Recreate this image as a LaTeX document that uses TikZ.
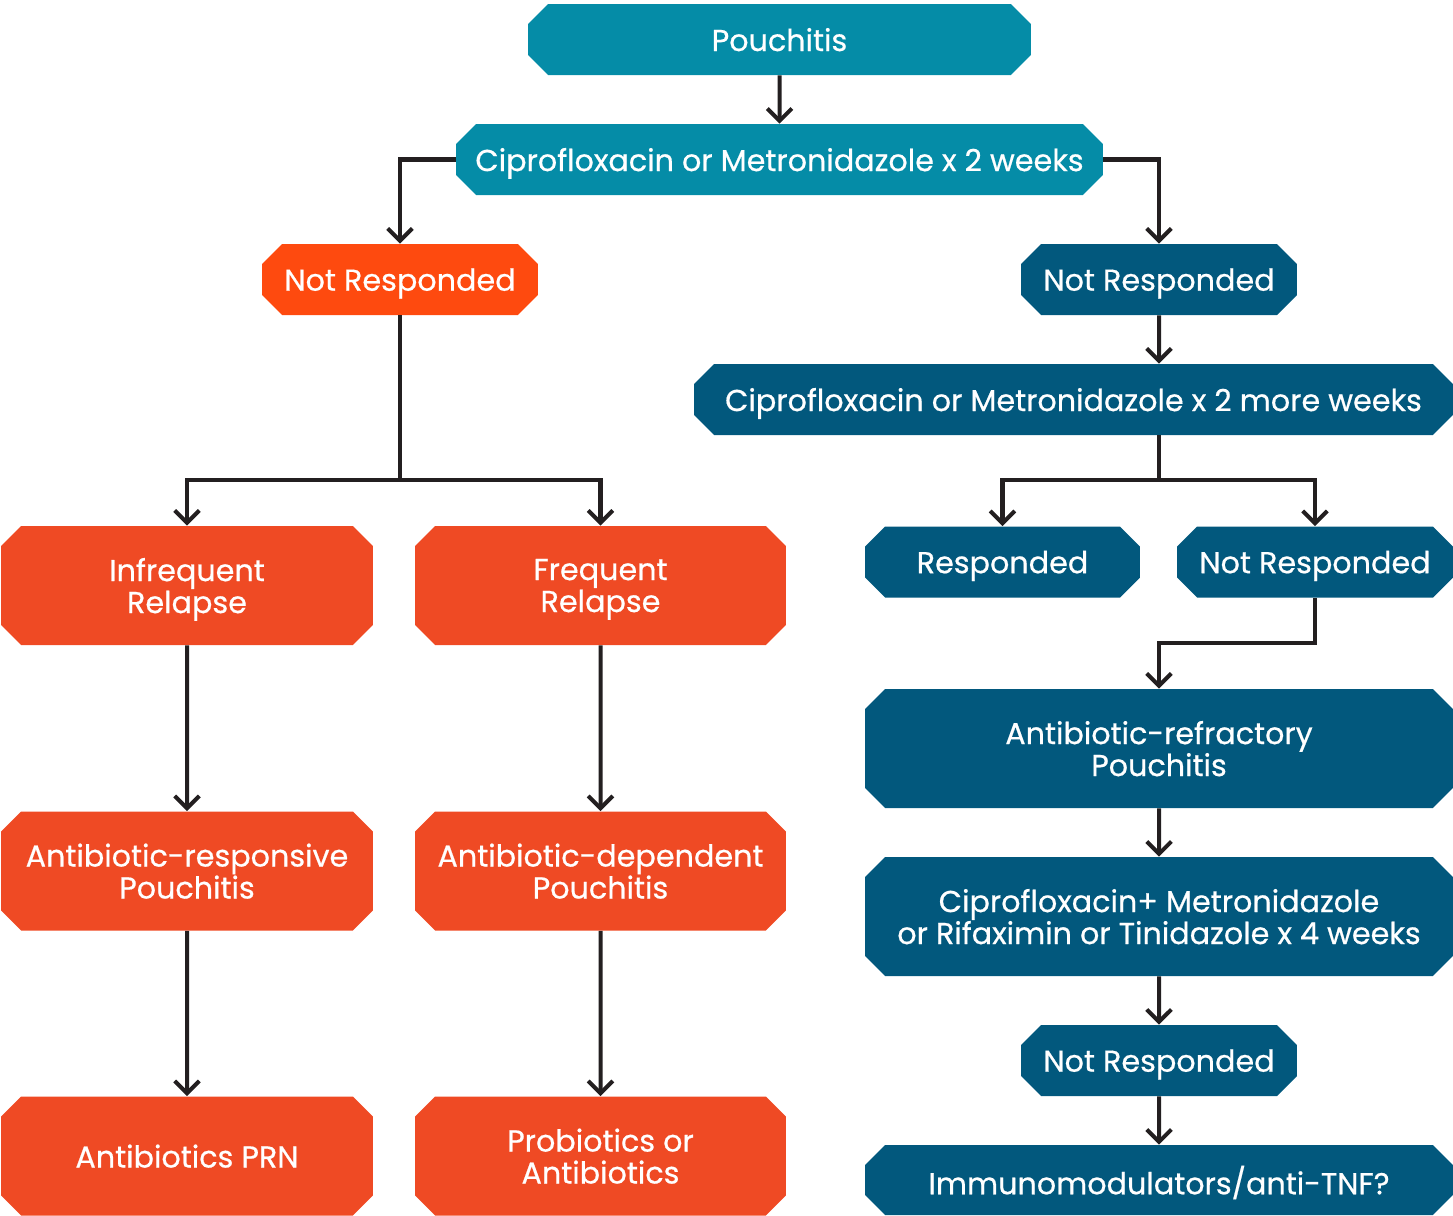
\documentclass[tikz,border=0pt]{standalone}
\usepackage{fontspec}
\setmainfont{Poppins}[FakeBold=0.6]
\usetikzlibrary{shapes.misc,arrows.meta}
\definecolor{teal1}{HTML}{058CA7}
\definecolor{navy1}{HTML}{02587D}
\definecolor{orange1}{HTML}{FE4A0F}
\definecolor{orange2}{HTML}{EF4A24}
\definecolor{ink}{HTML}{231F20}
\tikzset{
  box/.style={chamfered rectangle,chamfered rectangle xsep=0.2cm,chamfered rectangle ysep=0.2cm,
    inner sep=0pt,text=white,align=center,text depth=0pt,font=\fontsize{17.2}{18.2}\selectfont,minimum height=1.42cm},
  tall/.style={minimum height=2.38cm},
  link/.style={ink,line width=2.3pt,-{Straight Barb[length=7pt,width=14pt]}},
  plain/.style={ink,line width=2.3pt},
}
\begin{document}
\begin{tikzpicture}[x=0.02cm,y=-0.02cm]
        \useasboundingbox (0,0) rectangle (1453,1215);
        %% top
        \node[box,fill=teal1,minimum width=10.06cm] (P) at (779.5,39.5) {Pouchitis};
        \node[box,fill=teal1,minimum width=12.94cm] (C) at (779.5,159.5) {Ciprofloxacin or Metronidazole x 2 weeks};
        \node[box,fill=orange1,minimum width=5.52cm] (NL) at (400,279.5) {Not Responded};
        \node[box,fill=navy1,minimum width=5.52cm] (NR) at (1159,279.5) {Not Responded};
        %% left branch
        \node[box,tall,fill=orange2,minimum width=7.44cm] (IR) at (187,585.5) {Infrequent\\Relapse};
        \node[box,tall,fill=orange2,minimum width=7.42cm] (FR) at (600.5,585.5) {Frequent\\Relapse};
        \node[box,tall,fill=orange2,minimum width=7.44cm] (AS) at (187,871) {Antibiotic-responsive\\Pouchitis};
        \node[box,tall,fill=orange2,minimum width=7.42cm] (AD) at (600.5,871) {Antibiotic-dependent\\Pouchitis};
        \node[box,tall,fill=orange2,minimum width=7.44cm] (PRN) at (187,1156) {Antibiotics PRN};
        \node[box,tall,fill=orange2,minimum width=7.42cm] (PA) at (600.5,1156) {Probiotics or\\Antibiotics};
        %% right branch
        \node[box,fill=navy1,minimum width=15.18cm] (C2) at (1073.5,399.5) {Ciprofloxacin or Metronidazole x 2 more weeks};
        \node[box,fill=navy1,minimum width=5.5cm] (R) at (1002.5,562) {Responded};
        \node[box,fill=navy1,minimum width=5.52cm] (NR2) at (1315,562) {Not Responded};
        \node[box,tall,fill=navy1,minimum width=11.76cm] (AR) at (1159,748.5) {Antibiotic-refractory\\Pouchitis};
        \node[box,tall,fill=navy1,minimum width=11.76cm] (CM) at (1159,916.5) {Ciprofloxacin+ Metronidazole\\or Rifaximin or Tinidazole x 4 weeks};
        \node[box,fill=navy1,minimum width=5.52cm] (NR3) at (1159,1060.5) {Not Responded};
        \node[box,fill=navy1,minimum width=11.76cm,minimum height=1.4cm] (IM) at (1159,1180) {Immunomodulators/anti-TNF?};
        %% connectors
        \draw[link] (P) -- (C);
        \draw[link] (C.west) -| (NL.north);
        \draw[link] (C.east) -| (NR.north);
        \draw[link] (NR) -- (NR|-C2.north);
        \draw[plain] (NL.south) -- (400,480) coordinate (J1);
        \draw[link] (J1) -| (IR.north);
        \draw[link] (J1) -| (FR.north);
        \draw[plain] (C2.south-|NR) -- (1159,480) coordinate (J2);
        \draw[link] (J2) -| (R.north);
        \draw[link] (J2) -| (NR2.north);
        \draw[link] (NR2.south) |- (1159,643) -- (AR.north);
        \draw[link] (IR) -- (AS);
        \draw[link] (FR) -- (AD);
        \draw[link] (AS) -- (PRN);
        \draw[link] (AD) -- (PA);
        \draw[link] (AR) -- (CM);
        \draw[link] (CM) -- (NR3);
        \draw[link] (NR3) -- (IM);
\end{tikzpicture}
\end{document}
